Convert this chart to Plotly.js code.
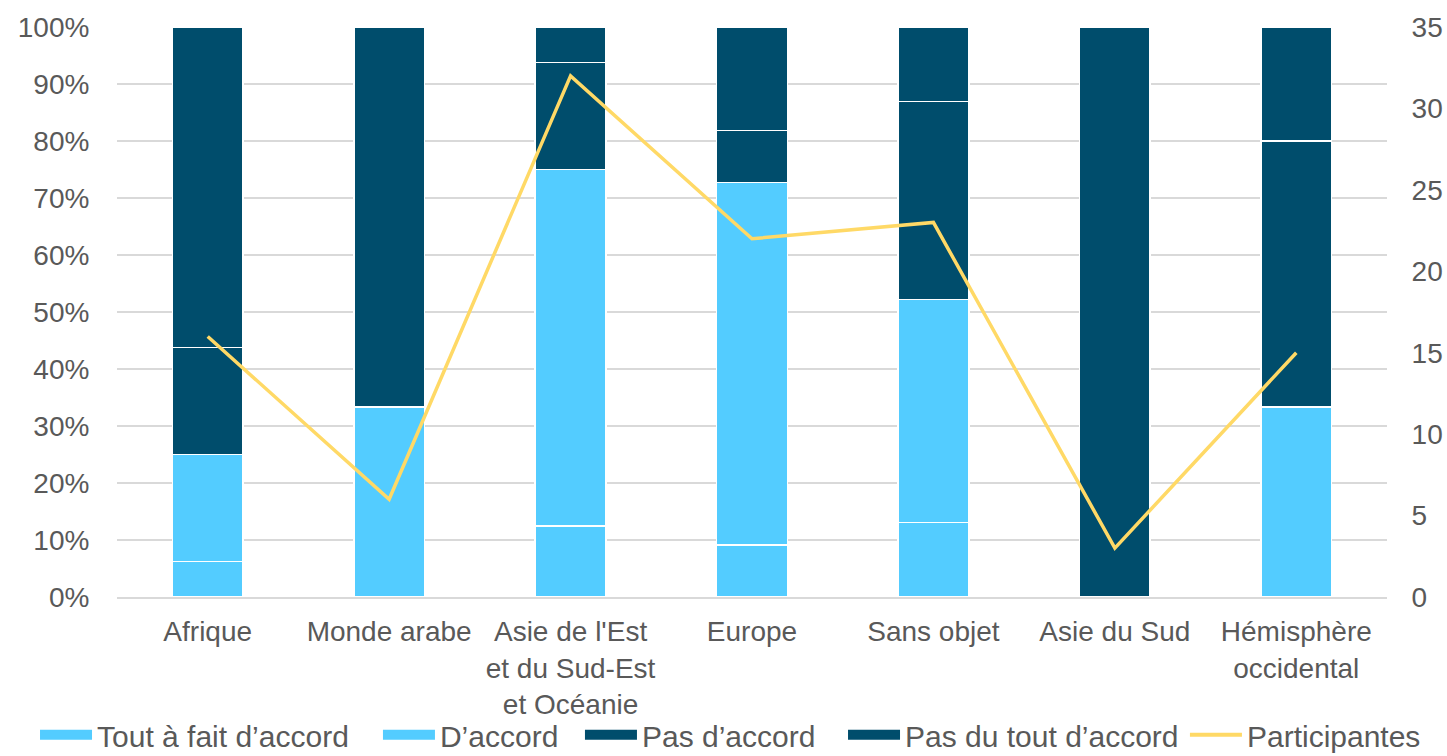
<!DOCTYPE html>
<html><head><meta charset="utf-8">
<script src="https://cdn.plot.ly/plotly-3.0.1.min.js"></script>
<style>html,body{margin:0;padding:0;background:#fff;}#chart{width:1447px;height:756px;}</style>
</head><body><div id="chart"></div>
<script>
const categories = ["Afrique", "Monde arabe", "Asie de l'Est<br>et du Sud-Est<br>et Océanie", "Europe", "Sans objet", "Asie du Sud", "Hémisphère<br>occidental"];
const seriesNames = ["Tout à fait d’accord", "D’accord", "Pas d’accord", "Pas du tout d’accord", "Participantes"];
const toutAFait = [6.25, 0, 12.5, 9.09, 13.04, 0, 0];
const dAccord = [18.75, 33.33, 62.5, 63.64, 39.13, 0, 33.33];
const pasDAccord = [18.75, 66.67, 18.75, 9.09, 34.78, 100, 46.67];
const pasDuTout = [56.25, 0, 6.25, 18.18, 13.04, 0, 20];
const participantes = [16, 6, 32, 22, 23, 3, 15];

const light = '#53CCFF', dark = '#004D6C', yellow = '#FFD966';
const barSeries = [[toutAFait, light], [dAccord, light], [pasDAccord, dark], [pasDuTout, dark]];
const legendIds = ['legend', 'legend2', 'legend3', 'legend4', 'legend5'];
const legendLefts = [0.0242, 0.2612, 0.4008, 0.5826, 0.8189];
const data = [];
barSeries.forEach(function (s, i) {
  data.push({type: 'bar', name: seriesNames[i], legendgroup: 'g' + i, showlegend: false,
    x: categories, y: s[0], marker: {color: s[1], line: {color: '#ffffff', width: 1.5}}, hoverinfo: 'y'});
});
data.push({type: 'scatter', mode: 'lines', name: seriesNames[4], x: categories, y: participantes, yaxis: 'y2',
  line: {color: yellow, width: 3.5}, showlegend: false});
// legend entries (no data points), one legend box per entry
barSeries.forEach(function (s, i) {
  data.push({type: 'scatter', mode: 'lines', name: seriesNames[i], legendgroup: 'g' + i, legend: legendIds[i],
    x: [null], y: [null], line: {color: s[1], width: 13}, hoverinfo: 'skip'});
});
data.push({type: 'scatter', mode: 'lines', name: seriesNames[4], legend: legendIds[4], x: [null], y: [null], yaxis: 'y2',
  line: {color: yellow, width: 4}, hoverinfo: 'skip'});

const font = {family: 'Liberation Sans, Arial, sans-serif', size: 28, color: '#595959'};
const legendFont = {family: 'Liberation Sans, Arial, sans-serif', size: 30, color: '#595959'};
const layout = {
  barmode: 'stack', bargap: 0.61,
  width: 1447, height: 756,
  margin: {l: 117, r: 60, t: 27, b: 159, autoexpand: false},
  paper_bgcolor: '#fff', plot_bgcolor: '#fff',
  font: font,
  showlegend: true,
  xaxis: {tickfont: font, showgrid: false, showline: true, linecolor: '#D9D9D9', linewidth: 1.5,
    ticks: 'outside', ticklen: 9, tickcolor: 'rgba(0,0,0,0)', fixedrange: true},
  yaxis: {range: [0, 100], dtick: 10, ticksuffix: '%', tickfont: font, gridcolor: '#D9D9D9', gridwidth: 1.5,
    zeroline: false, ticks: 'outside', ticklen: 21, tickcolor: 'rgba(0,0,0,0)'},
  yaxis2: {range: [0, 35], dtick: 5, overlaying: 'y', side: 'right', tickfont: font, showgrid: false,
    zeroline: false, ticks: 'outside', ticklen: 18, tickcolor: 'rgba(0,0,0,0)'}
};
legendIds.forEach(function (id, i) {
  layout[id] = {orientation: 'h', xref: 'container', yref: 'container', x: legendLefts[i], xanchor: 'left',
    y: 0.028, yanchor: 'middle', font: legendFont, itemwidth: 52, bgcolor: 'rgba(0,0,0,0)'};
});
Plotly.newPlot('chart', data, layout, {displayModeBar: false});
</script></body></html>
